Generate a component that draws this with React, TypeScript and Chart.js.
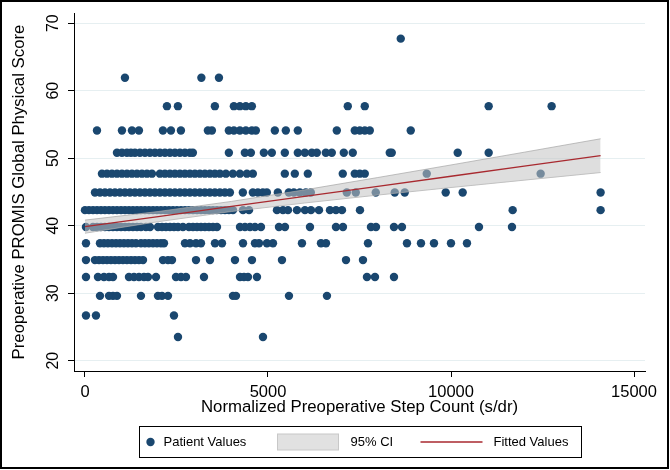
import React, { useEffect, useRef } from "react";
import { Chart, registerables } from "chart.js";

Chart.register(...registerables);

const FONT = "'Liberation Sans', Arial, Helvetica, sans-serif";
const NAVY = "#1a476f";
const RED = "#a8292f";
const CI_FILL = "rgba(195,195,195,0.55)";
const CI_EDGE = "rgba(165,165,165,0.7)";
const GRID = "#e6eff1";

const xTitle = "Normalized Preoperative Step Count (s/dr)";
const yTitle = "Preoperative PROMIS Global Physical Score";
const xTicks = [0, 5000, 10000, 15000];
const yTicks = [20, 30, 40, 50, 60, 70];

// Score levels (y) and the step counts (x) of patients at each level
const scoreLevels = [67.7, 61.9, 57.7, 54.1, 50.8, 47.7, 44.9, 42.3, 39.8, 37.4, 34.9, 32.4, 29.6, 26.7, 23.5];

const steps677 = [8627];
const steps619 = [1092, 3180, 3660];
const steps577 = [2239, 2539, 3549, 4068, 4232, 4395, 4559, 7180, 7644, 11029, 12749];
const steps541 = [328, 1010, 1283, 1474, 2129, 2348, 2621, 3358, 3467, 3931, 4068, 4232, 4395, 4559, 4668, 5187, 5487, 5815, 6880, 7371, 7508, 7644, 7781, 8900];
const steps508 = [874, 1010, 1147, 1256, 1365, 1502, 1638, 1775, 1911, 2048, 2184, 2321, 2457, 2594, 2730, 2867, 2948, 3931, 4368, 4532, 4887, 5105, 5460, 5815, 6006, 6197, 6334, 6580, 6743, 7071, 7316, 8327, 8381, 10183, 11029];
const steps477 = [464, 601, 737, 874, 1010, 1147, 1283, 1420, 1556, 1693, 1829, 2048, 2184, 2321, 2457, 2594, 2730, 2867, 3003, 3140, 3276, 3413, 3549, 3686, 3849, 4040, 4232, 4423, 4586, 5460, 5733, 6088, 7043, 7371, 7508, 7644, 9337, 12449];
const steps449 = [273, 410, 546, 683, 819, 956, 1092, 1229, 1365, 1502, 1638, 1775, 1911, 2048, 2184, 2321, 2457, 2594, 2730, 2867, 3003, 3140, 3276, 3413, 3549, 3686, 3822, 3959, 4313, 4586, 4723, 4859, 4969, 5269, 5569, 5706, 5870, 6033, 6170, 7153, 7398, 7944, 8463, 8736, 9855, 10319, 14087];
const steps423 = [0, 109, 219, 328, 437, 546, 656, 765, 874, 984, 1093, 1202, 1311, 1421, 1530, 1639, 1748, 1858, 1967, 2076, 2186, 2295, 2404, 2513, 2623, 2732, 2841, 2951, 3060, 3169, 3278, 3388, 3497, 3606, 3716, 3825, 3934, 4043, 4317, 4481, 5245, 5409, 5546, 5792, 6010, 6174, 6393, 6693, 6857, 7021, 7513, 11684, 14087];
const steps398 = [27, 219, 328, 437, 546, 656, 765, 874, 984, 1093, 1202, 1311, 1421, 1530, 1666, 1776, 1995, 2104, 2213, 2322, 2432, 2541, 2677, 2841, 2951, 3060, 3169, 3278, 3388, 3497, 3606, 4235, 4371, 4508, 4645, 4808, 5300, 5464, 6147, 6857, 7048, 7813, 7950, 8442, 8660, 10764, 11666];
const steps374 = [27, 410, 519, 628, 738, 847, 956, 1065, 1175, 1284, 1393, 1530, 1639, 1748, 1858, 1967, 2076, 2158, 2732, 2869, 3033, 3169, 3552, 3743, 4317, 4644, 4754, 4972, 5136, 5928, 6448, 6584, 7732, 8797, 9180, 9535, 9999, 10436];
const steps349 = [27, 273, 383, 492, 601, 710, 820, 929, 1038, 1147, 1257, 1366, 1475, 1585, 2131, 2268, 2377, 3033, 3415, 4098, 4562, 5382, 7131, 7595];
const steps324 = [27, 355, 519, 656, 765, 1202, 1339, 1475, 1612, 1721, 1940, 2486, 2623, 2759, 3251, 4235, 4344, 4453, 4699, 7704, 7923, 8442];
const steps296 = [410, 656, 765, 874, 1530, 1994, 2104, 2268, 4043, 4125, 5573, 6611];
const steps267 = [27, 300, 2431];
const steps235 = [2541, 4863];

const stepsByLevel = [steps677, steps619, steps577, steps541, steps508, steps477, steps449, steps423, steps398, steps374, steps349, steps324, steps296, steps267, steps235];

// Fitted line and 95% confidence band
const fitSteps = [0, 2000, 4000, 6000, 8000, 10000, 12000, 14087];
const fittedValues = [39.85, 41.34, 42.84, 44.33, 45.83, 47.32, 48.81, 50.37];
const ciUpper = [40.82, 42.09, 43.59, 45.3, 47.13, 48.99, 50.88, 52.87];
const ciLower = [38.88, 40.59, 42.09, 43.36, 44.53, 45.65, 46.74, 47.87];

const legendLabels = ["Patient Values", "95% CI", "Fitted Values"];

export default function App() {
  const ref = useRef<HTMLCanvasElement>(null);

  useEffect(() => {
    document.body.style.margin = "0";
    const canvas = ref.current;
    if (!canvas) return;

    const points: { x: number; y: number }[] = [];
    scoreLevels.forEach((s, i) => {
      stepsByLevel[i].forEach((x) => points.push({ x, y: s }));
    });

    const decor = {
      id: "decor",
      beforeDraw(chart: any) {
        const ctx = chart.ctx;
        ctx.save();
        ctx.fillStyle = "#fff";
        ctx.fillRect(0, 0, chart.width, chart.height);
        ctx.restore();
      },
      afterDraw(chart: any) {
        const ctx = chart.ctx;
        const area = chart.chartArea;
        const ys = chart.scales.y;
        ctx.save();
        // rotated y tick labels
        ctx.fillStyle = "#000";
        ctx.font = `16px ${FONT}`;
        ctx.textAlign = "center";
        ctx.textBaseline = "middle";
        yTicks.forEach((v) => {
          const py = ys.getPixelForValue(v);
          ctx.save();
          ctx.translate(area.left - 20, py);
          ctx.rotate(-Math.PI / 2);
          ctx.fillText(String(v), 0, 0);
          ctx.restore();
        });

        // legend
        const cx = (area.left + area.right) / 2;
        const bw = 442;
        const bl = Math.round(cx - bw / 2) + 0.5;
        const bt = 426.5;
        const bh = 31;
        const my = bt + bh / 2;
        ctx.strokeStyle = "#000";
        ctx.lineWidth = 1;
        ctx.strokeRect(bl, bt, bw, bh);

        ctx.fillStyle = NAVY;
        ctx.beginPath();
        ctx.arc(bl + 11, my, 4.2, 0, Math.PI * 2);
        ctx.fill();

        ctx.fillStyle = "rgb(225,225,225)";
        ctx.fillRect(bl + 138, my - 8, 61, 16);
        ctx.strokeStyle = "rgb(200,200,200)";
        ctx.strokeRect(bl + 138, my - 8, 61, 16);

        ctx.strokeStyle = RED;
        ctx.lineWidth = 1.4;
        ctx.beginPath();
        ctx.moveTo(bl + 281, my);
        ctx.lineTo(bl + 343, my);
        ctx.stroke();

        ctx.fillStyle = "#000";
        ctx.font = `13px ${FONT}`;
        ctx.textAlign = "left";
        ctx.textBaseline = "middle";
        ctx.fillText(legendLabels[0], bl + 24, my + 0.5);
        ctx.fillText(legendLabels[1], bl + 211, my + 0.5);
        ctx.fillText(legendLabels[2], bl + 354, my + 0.5);

        // outer frame
        ctx.strokeStyle = "#000";
        ctx.lineWidth = 2;
        ctx.strokeRect(1, 1, chart.width - 3, chart.height - 3);
        ctx.restore();
      },
    };

    const chart = new Chart(canvas, {
      type: "scatter",
      data: {
        datasets: [
          {
            type: "line",
            label: legendLabels[2],
            data: fitSteps.map((x, i) => ({ x, y: fittedValues[i] })),
            borderColor: RED,
            borderWidth: 1.3,
            pointRadius: 0,
            fill: false,
            order: 1,
          } as any,
          {
            type: "line",
            label: "95% CI upper",
            data: fitSteps.map((x, i) => ({ x, y: ciUpper[i] })),
            borderColor: CI_EDGE,
            borderWidth: 1,
            pointRadius: 0,
            backgroundColor: CI_FILL,
            fill: "+1",
            order: 2,
          } as any,
          {
            type: "line",
            label: "95% CI lower",
            data: fitSteps.map((x, i) => ({ x, y: ciLower[i] })),
            borderColor: CI_EDGE,
            borderWidth: 1,
            pointRadius: 0,
            fill: false,
            order: 2,
          } as any,
          {
            label: legendLabels[0],
            data: points,
            backgroundColor: NAVY,
            borderWidth: 0,
            pointRadius: 4.2,
            pointHoverRadius: 4.2,
            order: 3,
          } as any,
        ],
      },
      options: {
        animation: false,
        responsive: false,
        events: [],
        layout: { padding: { top: 13, right: 25, left: 0, bottom: 0 } },
        plugins: {
          legend: { display: false },
          tooltip: { enabled: false },
        },
        scales: {
          x: {
            type: "linear",
            min: -300,
            max: 15300,
            afterBuildTicks: (s: any) => {
              s.ticks = xTicks.map((v) => ({ value: v }));
            },
            afterFit: (s: any) => {
              s.height = 99;
            },
            grid: { drawOnChartArea: false, tickLength: 6, tickColor: "#000", lineWidth: 1 },
            border: { color: "#000", width: 1 },
            ticks: {
              color: "#000",
              font: { family: FONT, size: 16.5 },
              padding: 6,
              maxRotation: 0,
              autoSkip: false,
              callback: (v: any) => String(v),
            },
            title: {
              display: true,
              text: xTitle,
              color: "#000",
              font: { family: FONT, size: 16.8 },
              padding: { top: 0, bottom: 53 },
            },
          },
          y: {
            type: "linear",
            min: 18.47,
            max: 71.5,
            afterBuildTicks: (s: any) => {
              s.ticks = yTicks.map((v) => ({ value: v }));
            },
            afterFit: (s: any) => {
              s.width = 74;
            },
            grid: { color: GRID, tickColor: "#000", tickLength: 6, lineWidth: 1 },
            border: { color: "#000", width: 1 },
            ticks: { display: false },
            title: {
              display: true,
              text: yTitle,
              color: "#000",
              font: { family: FONT, size: 16.8 },
              padding: { top: 9, bottom: 0 },
            },
          },
        },
      } as any,
      plugins: [decor],
    });

    return () => chart.destroy();
  }, []);

  return <canvas ref={ref} width={670} height={470} style={{ display: "block", width: 670, height: 470 }} />;
}
